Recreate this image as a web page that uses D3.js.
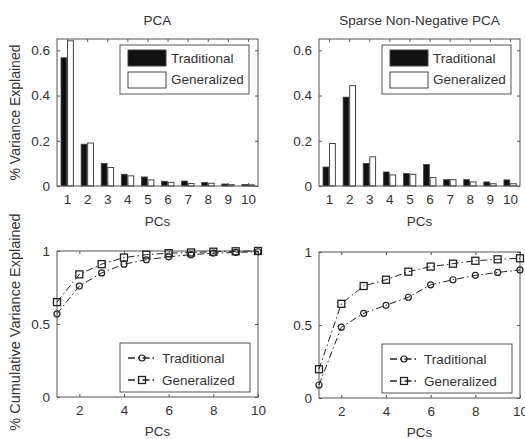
<!DOCTYPE html>
<html>
<head>
<meta charset="utf-8">
<script src="https://cdn.jsdelivr.net/npm/d3@7"></script>
<style>
  body { margin: 0; background: #fff; }
  text { font-family: "Liberation Sans", Arial, sans-serif; fill: #333; }
</style>
</head>
<body>
<svg width="525" height="439"></svg>
<script>
// data
var pcs = [1, 2, 3, 4, 5, 6, 7, 8, 9, 10];
var seriesNames = ["Traditional", "Generalized"];

var pcaTrad = [0.567, 0.185, 0.100, 0.052, 0.040, 0.021, 0.022, 0.016, 0.009, 0.007];
var pcaGen  = [0.642, 0.190, 0.082, 0.045, 0.027, 0.016, 0.011, 0.012, 0.006, 0.005];

var sparseTrad = [0.084, 0.393, 0.100, 0.062, 0.055, 0.095, 0.028, 0.028, 0.018, 0.027];
var sparseGen  = [0.188, 0.444, 0.129, 0.049, 0.052, 0.037, 0.028, 0.018, 0.010, 0.010];

var cumPcaTrad = [0.57, 0.76, 0.85, 0.91, 0.94, 0.96, 0.975, 0.985, 0.99, 0.995];
var cumPcaGen  = [0.65, 0.84, 0.91, 0.955, 0.975, 0.985, 0.99, 0.995, 0.998, 1.0];

var cumSparseTrad = [0.089, 0.485, 0.58, 0.635, 0.69, 0.775, 0.81, 0.84, 0.86, 0.877];
var cumSparseGen  = [0.197, 0.645, 0.767, 0.81, 0.865, 0.90, 0.92, 0.94, 0.95, 0.957];

var barYTicks = [0, 0.2, 0.4, 0.6];
var lineXTicks = [2, 4, 6, 8, 10];
var lineYTicks = [0, 0.5, 1];

var svg = d3.select("svg");
var axisColor = "#555";
var fs = "13.5px";

function frame(g, box) {
  g.append("rect")
    .attr("x", box.l).attr("y", box.t)
    .attr("width", box.r - box.l).attr("height", box.b - box.t)
    .attr("fill", "none").attr("stroke", axisColor).attr("stroke-width", 1);
}

// matlab style: ticks inside on all four sides
function axes(g, box, x, y, xticks, yticks) {
  var tl = 3;
  var bottom = g.append("g").attr("transform", "translate(0," + box.b + ")")
    .call(d3.axisBottom(x).tickValues(xticks).tickSize(-tl).tickPadding(8).tickFormat(function(d) { return d; }));
  var top = g.append("g").attr("transform", "translate(0," + box.t + ")")
    .call(d3.axisTop(x).tickValues(xticks).tickSize(-tl).tickFormat(""));
  var left = g.append("g").attr("transform", "translate(" + box.l + ",0)")
    .call(d3.axisLeft(y).tickValues(yticks).tickSize(-tl).tickPadding(7).tickFormat(function(d) { return String(d); }));
  var right = g.append("g").attr("transform", "translate(" + box.r + ",0)")
    .call(d3.axisRight(y).tickValues(yticks).tickSize(-tl).tickFormat(""));
  [bottom, top, left, right].forEach(function(a) {
    a.select(".domain").remove();
    a.selectAll("line").attr("stroke", axisColor);
    a.selectAll("text").style("font-size", fs).attr("fill", "#333")
      .style("font-family", "'Liberation Sans', Arial, sans-serif");
  });
}

function barPanel(box, trad, gen, title) {
  var g = svg.append("g");
  var x = d3.scaleLinear().domain([0.5, 10.5]).range([box.l, box.r]);
  var y = d3.scaleLinear().domain([0, 0.65]).range([box.b, box.t]);
  var bw = x(0.29) - x(0);

  g.selectAll(".trad").data(trad).enter().append("rect")
    .attr("x", function(d, i) { return x(pcs[i] - 0.3); })
    .attr("y", function(d) { return y(d); })
    .attr("width", bw)
    .attr("height", function(d) { return y(0) - y(d); })
    .attr("fill", "#111").attr("stroke", "#444").attr("stroke-width", 0.8);

  g.selectAll(".gen").data(gen).enter().append("rect")
    .attr("x", function(d, i) { return x(pcs[i]) + 0.5; })
    .attr("y", function(d) { return y(d); })
    .attr("width", bw)
    .attr("height", function(d) { return y(0) - y(d); })
    .attr("fill", "#fff").attr("stroke", "#444").attr("stroke-width", 1);

  frame(g, box);
  axes(g, box, x, y, pcs, barYTicks);

  g.append("text").attr("x", (box.l + box.r) / 2).attr("y", box.t - 14)
    .attr("text-anchor", "middle").style("font-size", fs).text(title);
  g.append("text").attr("x", (box.l + box.r) / 2).attr("y", box.b + 40)
    .attr("text-anchor", "middle").style("font-size", fs).text("PCs");

  // legend
  var lg = g.append("g").attr("transform", "translate(" + (box.r - 138) + "," + (box.t + 6) + ")");
  lg.append("rect").attr("x", 0).attr("y", 0).attr("width", 129).attr("height", 49)
    .attr("fill", "#fff").attr("stroke", axisColor);
  lg.append("rect").attr("x", 8).attr("y", 5).attr("width", 38).attr("height", 16)
    .attr("fill", "#111").attr("stroke", "#444");
  lg.append("rect").attr("x", 8).attr("y", 27).attr("width", 38).attr("height", 16)
    .attr("fill", "#fff").attr("stroke", "#444");
  lg.selectAll(".lt").data(seriesNames).enter().append("text")
    .attr("x", 51).attr("y", function(d, i) { return 18 + i * 21; })
    .style("font-size", fs).text(function(d) { return d; });
}

function linePanel(box, trad, gen) {
  var g = svg.append("g");
  var x = d3.scaleLinear().domain([1, 10]).range([box.l, box.r]);
  var y = d3.scaleLinear().domain([0, 1]).range([box.b, box.t]);
  var line = d3.line().x(function(d, i) { return x(pcs[i]); }).y(function(d) { return y(d); });
  var dash = "7,3,1.5,3";

  frame(g, box);
  axes(g, box, x, y, lineXTicks, lineYTicks);

  [trad, gen].forEach(function(s, k) {
    g.append("path").datum(s).attr("d", line)
      .attr("fill", "none").attr("stroke", "#222").attr("stroke-width", 1)
      .attr("stroke-dasharray", dash);
    if (k === 0) {
      g.selectAll(".c" + k).data(s).enter().append("circle")
        .attr("cx", function(d, i) { return x(pcs[i]); })
        .attr("cy", function(d) { return y(d); })
        .attr("r", 3).attr("fill", "none").attr("stroke", "#222").attr("stroke-width", 1.2);
    } else {
      g.selectAll(".s" + k).data(s).enter().append("rect")
        .attr("x", function(d, i) { return x(pcs[i]) - 3.5; })
        .attr("y", function(d) { return y(d) - 3.5; })
        .attr("width", 7).attr("height", 7)
        .attr("fill", "none").attr("stroke", "#222").attr("stroke-width", 1.3);
    }
  });

  g.append("text").attr("x", (box.l + box.r) / 2).attr("y", box.b + 39)
    .attr("text-anchor", "middle").style("font-size", fs).text("PCs");

  // legend
  var lg = g.append("g").attr("transform", "translate(" + (box.r - 138) + "," + (box.b - 54) + ")");
  lg.append("rect").attr("x", 0).attr("y", 0).attr("width", 130).attr("height", 49)
    .attr("fill", "#fff").attr("stroke", axisColor);
  seriesNames.forEach(function(name, k) {
    var yy = 15 + k * 22;
    lg.append("line").attr("x1", 8).attr("x2", 36).attr("y1", yy).attr("y2", yy)
      .attr("stroke", "#222").attr("stroke-width", 1.3).attr("stroke-dasharray", dash);
    if (k === 0) {
      lg.append("circle").attr("cx", 22).attr("cy", yy).attr("r", 3)
        .attr("fill", "none").attr("stroke", "#222").attr("stroke-width", 1.2);
    } else {
      lg.append("rect").attr("x", 18.5).attr("y", yy - 3.5).attr("width", 7).attr("height", 7)
        .attr("fill", "none").attr("stroke", "#222").attr("stroke-width", 1.3);
    }
    lg.append("text").attr("x", 42).attr("y", yy + 4.5).style("font-size", fs).text(name);
  });
}

var boxTL = { l: 57, r: 258, t: 39, b: 186 };
var boxTR = { l: 319, r: 520, t: 39, b: 186 };
var boxBL = { l: 57, r: 258, t: 251, b: 397 };
var boxBR = { l: 319, r: 520, t: 252, b: 398 };

barPanel(boxTL, pcaTrad, pcaGen, "PCA");
barPanel(boxTR, sparseTrad, sparseGen, "Sparse Non-Negative PCA");
linePanel(boxBL, cumPcaTrad, cumPcaGen);
linePanel(boxBR, cumSparseTrad, cumSparseGen);

// y labels
svg.append("text").attr("transform", "translate(20," + ((boxTL.t + boxTL.b) / 2) + ") rotate(-90)")
  .attr("text-anchor", "middle").style("font-size", "14px").text("% Variance Explained");
svg.append("text").attr("transform", "translate(20," + ((boxBL.t + boxBL.b) / 2 - 2) + ") rotate(-90)")
  .attr("text-anchor", "middle").style("font-size", "14.5px").text("% Cumulative Variance Explained");
</script>
</body>
</html>
